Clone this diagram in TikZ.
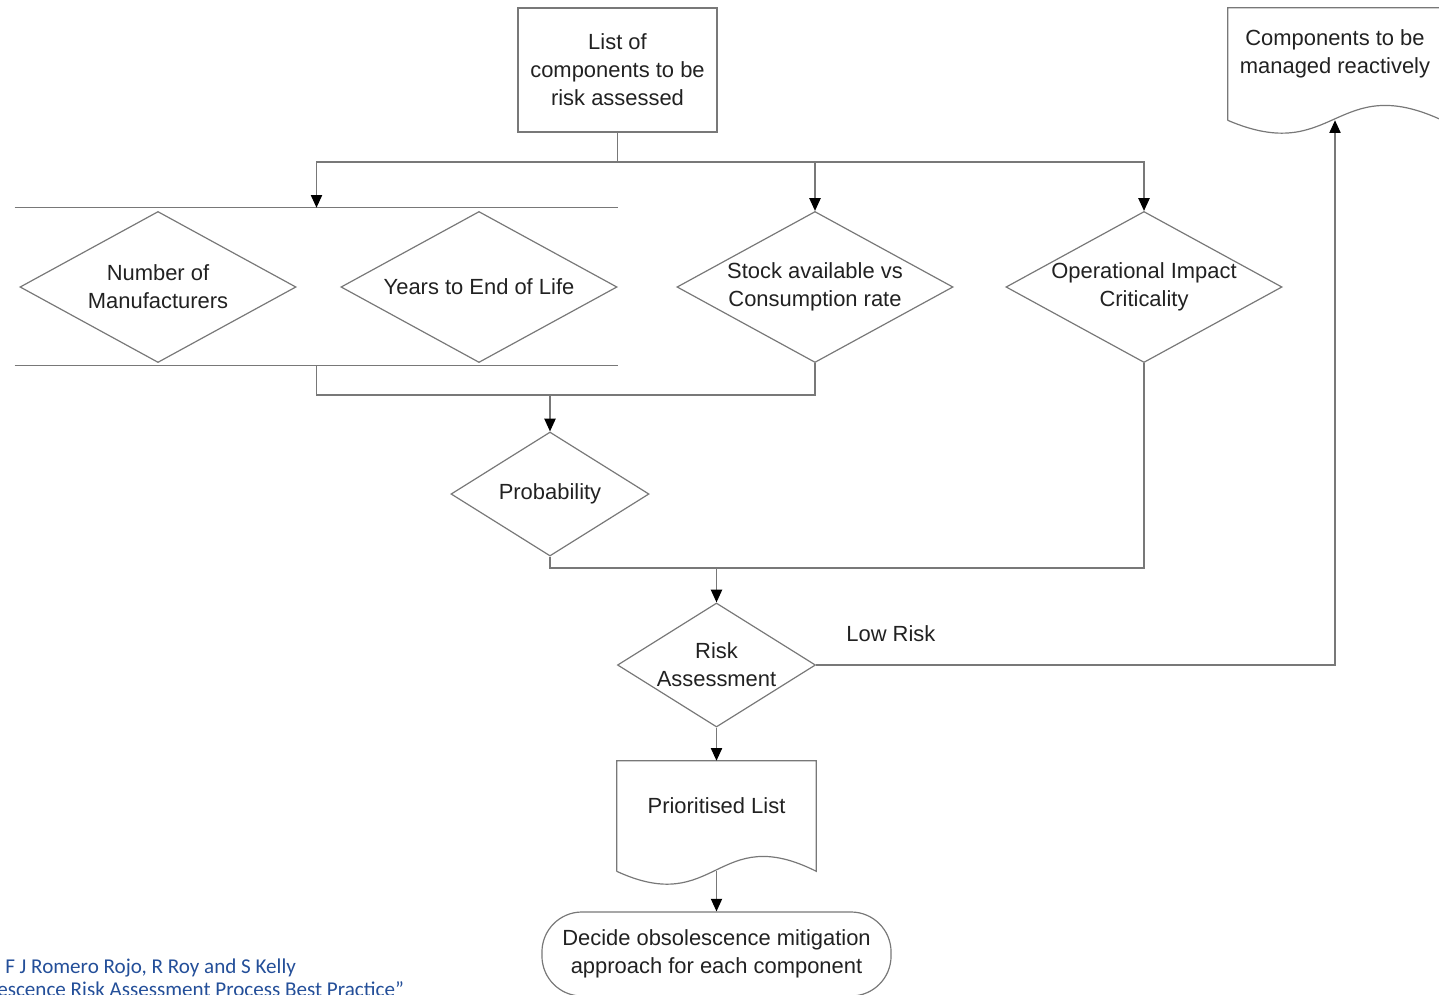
\documentclass[tikz,border=0pt]{standalone}
\usepackage{fontspec}
\setmainfont{Liberation Sans}
\newfontfamily\notefont{Carlito}
\usetikzlibrary{shapes.geometric,arrows.meta,calc}
\definecolor{fcgray}{rgb}{0.47,0.47,0.47}
\definecolor{fctext}{rgb}{0.13,0.13,0.13}
\definecolor{fcnote}{rgb}{0.14,0.31,0.60}
\tikzstyle{fcbase}=[draw=fcgray, line width=0.85pt, text=fctext, font=\fontsize{15.6}{20}\selectfont, align=center, inner sep=0pt]
\tikzstyle{fcprocess}=[fcbase, rectangle, minimum width=4.975cm, minimum height=3.1cm]
\tikzstyle{fcdecision}=[fcbase, diamond, aspect=1.83, minimum width=6.9cm, minimum height=3.775cm]
\tikzstyle{fcsmalldecision}=[fcbase, diamond, aspect=1.59, minimum width=4.95cm, minimum height=3.1cm]
\tikzstyle{fcterminal}=[fcbase, rectangle, rounded corners=1cm, minimum width=8.725cm, minimum height=2.1cm]
\tikzstyle{fcband}=[rectangle, inner sep=0pt]
\tikzstyle{fcline}=[draw=fcgray, line width=0.85pt]
\tikzstyle{fcarrow}=[fcline, -{Triangle[length=9pt,width=8pt,color=black]}]
\tikzstyle{fcnote}=[text=fcnote, font=\notefont\fontsize{15}{18}\selectfont, inner sep=0pt]
\newcommand{\fcdocument}[5]{
	\node[fcband, minimum width=#3, minimum height=#4] (#1) at (#2) {};
	\node[fcbase, draw=none] (#1text) at ([yshift=0.25cm]#1.center) {#5};
	\draw[fcline] (#1.south west) -- (#1.north west) -- (#1.north east) -- (#1.south east)
		.. controls ($(#1.south)+(0,-50)$) and ($(#1.south)+(0,46)$) .. (#1.south west);}

\begin{document}
\begin{tikzpicture}[x=0.025cm, y=-0.025cm]
\useasboundingbox (0,0) rectangle (1439,994);
\clip (0,0) rectangle (1439,994);
\node[fcprocess] (list) at (617.5,70) {List of\\components to be\\risk assessed};
\fcdocument{comp}{1335,64}{5.35cm}{2.8cm}{Components to be\\managed reactively}
% parallel band
\node[fcband, minimum width=15.075cm, minimum height=3.925cm] (band) at (316.5,286.5) {};
\draw[fcline] (band.north west) -- (band.north east) (band.south west) -- (band.south east);
\node[fcdecision] (manuf) at (158,287) {Number of\\Manufacturers};
\node[fcdecision] (eol) at (479,287) {Years to End of Life};
\node[fcdecision] (stock) at (815,287) {Stock available vs\\Consumption rate};
\node[fcdecision] (impact) at (1144,287) {Operational Impact\\Criticality};
\node[fcsmalldecision] (prob) at (550,494) {Probability};
\node[fcsmalldecision] (risk) at (716.5,665) {Risk\\Assessment};
\fcdocument{prio}{716.5,816}{4.975cm}{2.75cm}{Prioritised List}
\node[fcterminal] (decide) at (716.5,954) {Decide obsolescence mitigation\\approach for each component};
% connectors
\coordinate (split) at (617.5,162);
\draw[fcline] (list.south) -- (split);
\draw[fcarrow] (split) -| (band.north);
\draw[fcarrow] (split) -| (stock.north);
\draw[fcarrow] (split) -| (impact.north);
\coordinate (merge) at (550,395);
\draw[fcline] (band.south) |- (merge) -| (stock.south);
\draw[fcarrow] (merge) -- (prob.north);
\coordinate (merge2) at (716.5,568);
\draw[fcline] (prob.south) |- (merge2) -| (impact.south);
\draw[fcarrow] (merge2) -- (risk.north);
\draw[fcarrow] (risk.east) -| node[fcbase, draw=none, pos=0.072, above=0.56cm] (lowrisk) {Low Risk} (comp.south);
\draw[fcarrow] (risk.south) -- (prio.north);
\draw[fcarrow] (prio.south) -- (decide.north);
% source note
\node[fcnote, anchor=base west] (source) at (5,973) {F J Romero Rojo, R Roy and S Kelly};
\node[fcnote, anchor=base west] (paper) at (-3,996) {escence Risk Assessment Process Best Practice”};
\end{tikzpicture}
\end{document}
